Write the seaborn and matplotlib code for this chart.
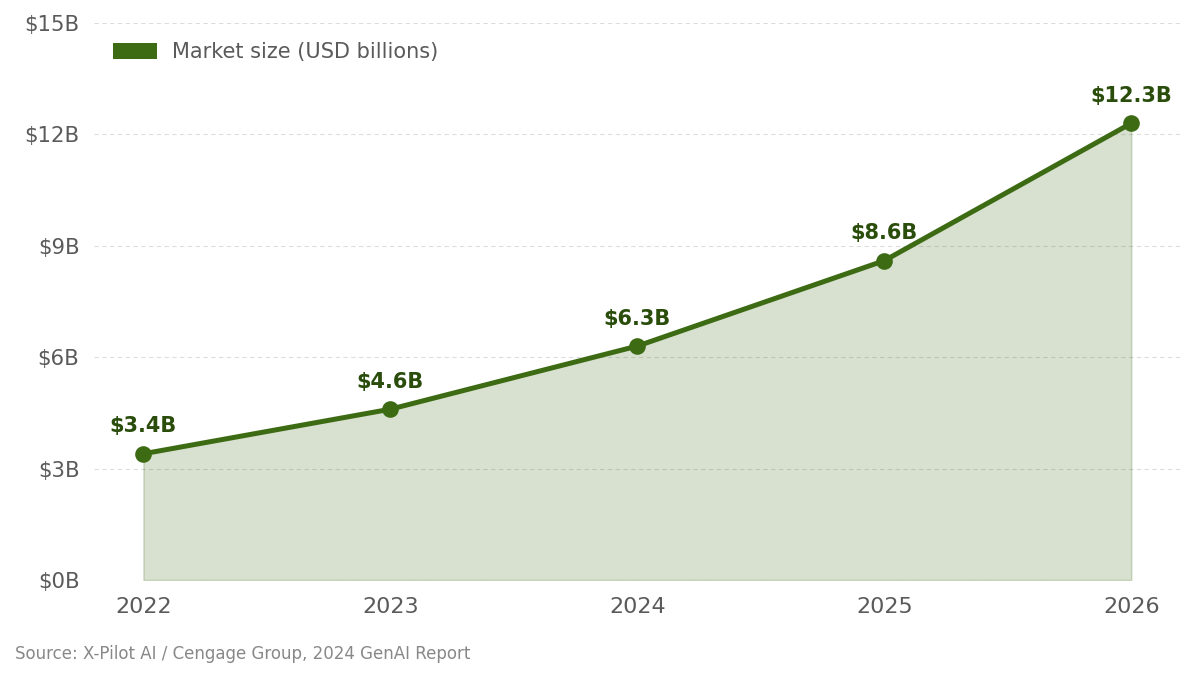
import matplotlib
matplotlib.use("Agg")
import matplotlib.pyplot as plt
import seaborn as sns
import pandas as pd
from matplotlib.patches import Patch

years = [2022, 2023, 2024, 2025, 2026]
market_size = [3.4, 4.6, 6.3, 8.6, 12.3]
value_labels = ["$3.4B", "$4.6B", "$6.3B", "$8.6B", "$12.3B"]
y_ticks = [0, 3, 6, 9, 12, 15]
y_tick_labels = ["$0B", "$3B", "$6B", "$9B", "$12B", "$15B"]
series_name = "Market size (USD billions)"
source_text = "Source: X-Pilot AI / Cengage Group, 2024 GenAI Report"

LINE = "#3d6b14"
LABEL = "#2a4d0c"
TICK = "#5a5a5a"

sns.set_theme(style="white")
plt.rcParams["font.family"] = ["DejaVu Sans"]

df = pd.DataFrame({"year": years, "value": market_size})

fig = plt.figure(figsize=(11.95, 6.79), dpi=100)
ax = fig.add_axes([0.0787, 0.1458, 0.9093, 0.8203])

ax.fill_between(df["year"], df["value"], 0, color=LINE, alpha=0.2,
                edgecolor=LINE, linewidth=1.2, zorder=1)
sns.lineplot(data=df, x="year", y="value", ax=ax, color=LINE, linewidth=3.6,
             marker="o", markersize=12, markeredgewidth=0, zorder=3)

for x, y, t in zip(years, market_size, value_labels):
    ax.annotate(t, (x, y), xytext=(0, 12.5), textcoords="offset points",
                ha="center", va="bottom", fontsize=15, fontweight="bold",
                color=LABEL, zorder=4)

ax.set_xlim(2021.8, 2026.2)
ax.set_ylim(0, 15)
ax.set_xticks(years)
ax.set_xticklabels([str(y) for y in years])
ax.set_yticks(y_ticks)
ax.set_yticklabels(y_tick_labels)
ax.tick_params(axis="x", labelsize=16, colors=TICK, length=0, pad=12.5)
ax.tick_params(axis="y", labelsize=15.3, colors=TICK, length=0, pad=10.5)
ax.set_xlabel("")
ax.set_ylabel("")
ax.grid(axis="y", color="#dddddd", linestyle=(0, (4, 3)), linewidth=0.8)
ax.grid(axis="x", visible=False)
ax.set_axisbelow(True)
for s in ax.spines.values():
    s.set_visible(False)

ax.legend(handles=[Patch(facecolor=LINE, edgecolor="none", label=series_name)],
          loc="upper left", bbox_to_anchor=(0.0, 0.999), frameon=False,
          fontsize=15, labelcolor=TICK, handlelength=2.1, handleheight=0.75,
          handletextpad=0.75)

fig.text(0.0125, 0.023, source_text, fontsize=12, color="#888888", ha="left", va="bottom")

fig.savefig("out.png", dpi=100)
